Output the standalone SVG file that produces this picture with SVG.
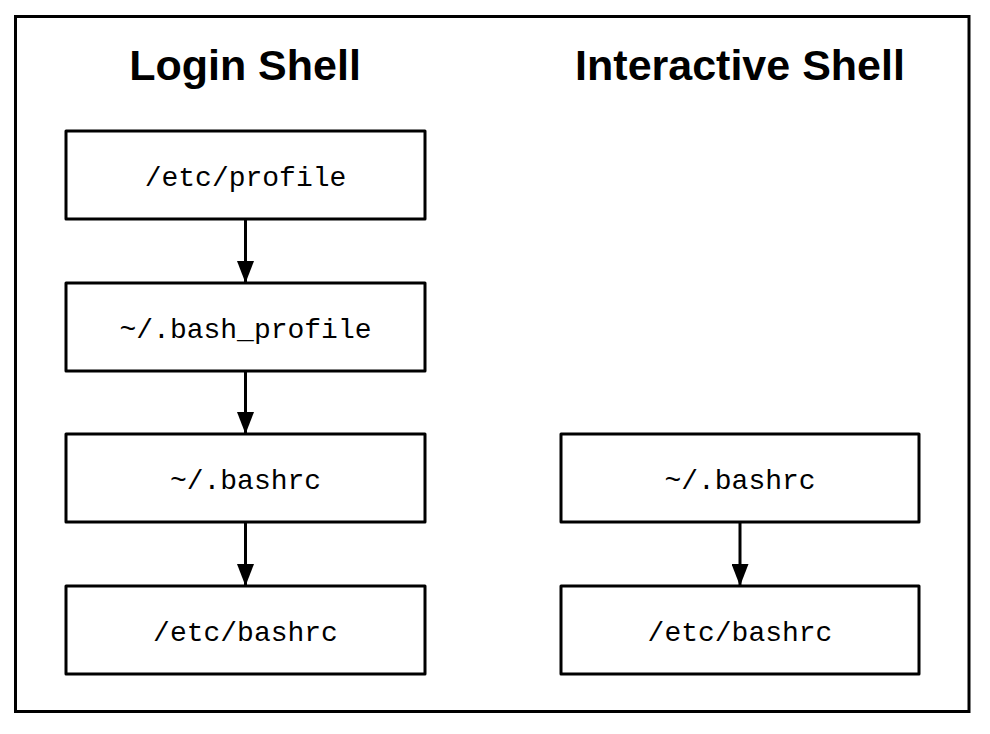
<svg xmlns="http://www.w3.org/2000/svg" width="990" height="734" viewBox="0 0 990 734">
<style>
.box{fill:#fff;stroke:#000;stroke-width:3;stroke-linejoin:round}
.lbl{font-family:"Liberation Mono","Courier New",monospace;font-size:28px;fill:#000;text-anchor:middle}
.title{font-family:"Liberation Sans",Arial,sans-serif;font-weight:bold;font-size:43px;fill:#000;text-anchor:middle}
.conn{stroke:#000;stroke-width:3;fill:none}
</style>
<defs>
<marker id="ah" markerUnits="userSpaceOnUse" markerWidth="22" markerHeight="17" refX="21" refY="8.5" orient="auto" viewBox="0 0 22 17">
<path d="M0,0 L22,8.5 L0,17 Z" fill="#000"/>
</marker>
</defs>
<rect width="990" height="734" fill="#fff"/>
<rect x="15.5" y="16.5" width="953.5" height="695" fill="none" stroke="#000" stroke-width="3"/>
<text class="title" x="245" y="80">Login Shell</text>
<text class="title" x="740" y="80">Interactive Shell</text>
<g id="connectors">
<line class="conn" x1="245.5" y1="219" x2="245.5" y2="282" marker-end="url(#ah)"/>
<line class="conn" x1="245.5" y1="371" x2="245.5" y2="433" marker-end="url(#ah)"/>
<line class="conn" x1="245.5" y1="522" x2="245.5" y2="585" marker-end="url(#ah)"/>
<line class="conn" x1="740" y1="522" x2="740" y2="585" marker-end="url(#ah)"/>
</g>
<g id="etc-profile">
<rect class="box" x="66" y="131" width="359" height="88"/>
<text class="lbl" x="245.5" y="186">/etc/profile</text>
</g>
<g id="bash-profile">
<rect class="box" x="66" y="283" width="359" height="88"/>
<text class="lbl" x="245.5" y="338">~/.bash_profile</text>
</g>
<g id="login-bashrc">
<rect class="box" x="66" y="434" width="359" height="88"/>
<text class="lbl" x="245.5" y="489">~/.bashrc</text>
</g>
<g id="login-etc-bashrc">
<rect class="box" x="66" y="586" width="359" height="88"/>
<text class="lbl" x="245.5" y="641">/etc/bashrc</text>
</g>
<g id="inter-bashrc">
<rect class="box" x="561" y="434" width="358" height="88"/>
<text class="lbl" x="740" y="489">~/.bashrc</text>
</g>
<g id="inter-etc-bashrc">
<rect class="box" x="561" y="586" width="358" height="88"/>
<text class="lbl" x="740" y="641">/etc/bashrc</text>
</g>
</svg>
